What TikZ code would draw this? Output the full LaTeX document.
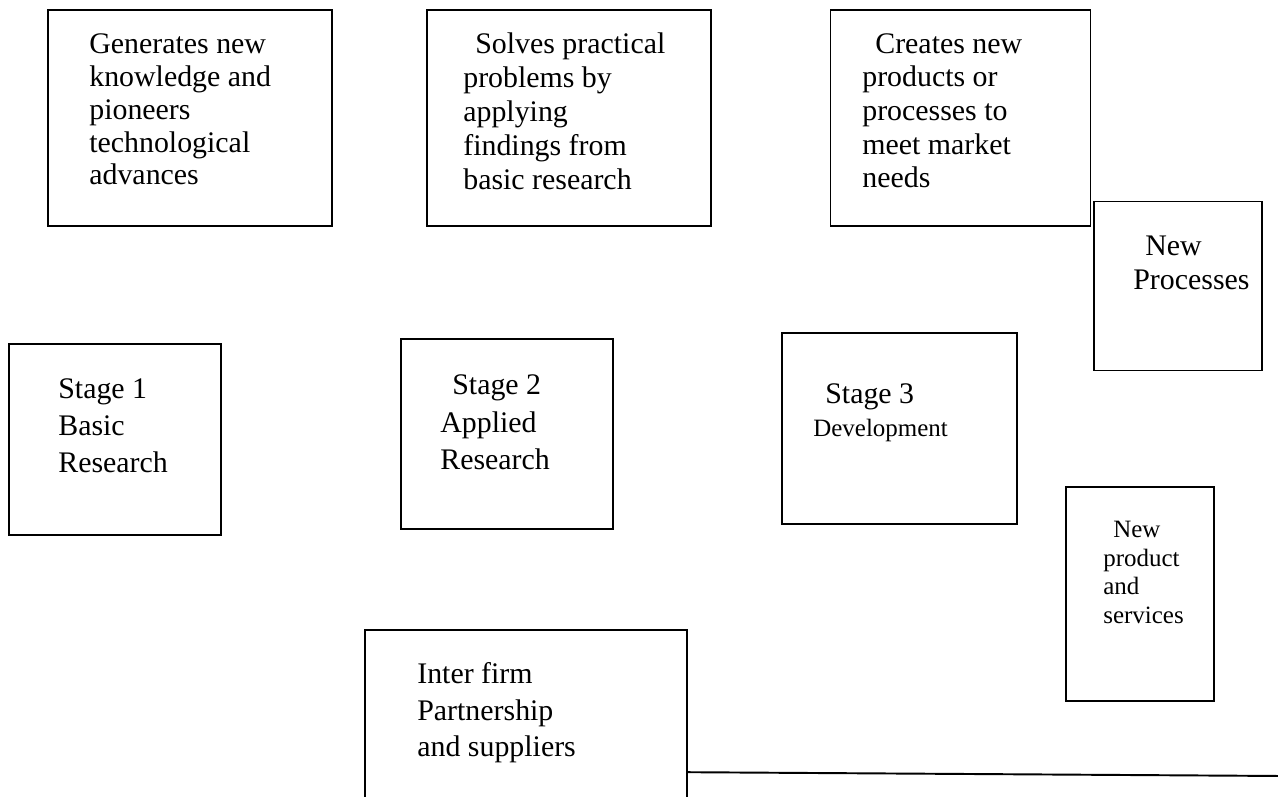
\documentclass[tikz,border=0pt]{standalone}
\usepackage{fontspec}
\setmainfont{Liberation Serif}
\usepackage{tikz}
\usetikzlibrary{calc}

\tikzset{
  stagebox/.style={draw, line width=0.9pt, inner sep=0pt},
  boxtext/.style={anchor=base west, align=left, inner sep=0pt},
}
\newcommand{\bigtext}[1]{\fontsize{17}{#1}\selectfont}
\newcommand{\smalltext}[1]{\fontsize{14.2}{#1}\selectfont}

\begin{document}
\begin{tikzpicture}
  \clip (0,0) rectangle (25.56,15.94);

  % Top row: descriptions
  \node[stagebox, minimum width=5.68cm, minimum height=4.32cm] (desc1) at (3.80,13.58) {};
  \node[stagebox, minimum width=5.68cm, minimum height=4.32cm] (desc2) at (11.38,13.58) {};
  \node[stagebox, minimum width=5.20cm, minimum height=4.32cm] (desc3) at (19.21,13.58) {};
  \node[boxtext, font=\bigtext{18.7pt}] (desc1t) at (1.78,12.24)
    {Generates new\\knowledge and\\pioneers\\technological\\advances};
  \node[boxtext, font=\bigtext{19.4pt}] (desc2t) at (9.26,12.14)
    {\hspace{0.24cm}Solves practical\\problems by\\applying\\findings from\\basic research};
  \node[boxtext, font=\bigtext{19.2pt}] (desc3t) at (17.24,12.18)
    {\hspace{0.26cm}Creates new\\products or\\processes to\\meet market\\needs};

  % Outputs
  \node[stagebox, minimum width=3.36cm, minimum height=3.38cm] (newproc) at (23.56,10.22) {};
  \node[boxtext, font=\bigtext{19.9pt}] (newproct) at (22.66,10.14)
    {\hspace{0.24cm}New\\Processes};
  \node[stagebox, minimum width=2.96cm, minimum height=4.28cm] (newprod) at (22.80,4.06) {};
  \node[boxtext, font=\smalltext{16.5pt}] (newprodt) at (22.06,3.46)
    {\hspace{0.2cm}New\\product\\and\\services};

  % Middle row: stages
  \node[stagebox, minimum width=4.24cm, minimum height=3.82cm] (stage1) at (2.30,7.15) {};
  \node[stagebox, minimum width=4.24cm, minimum height=3.80cm] (stage2) at (10.14,7.26) {};
  \node[stagebox, minimum width=4.70cm, minimum height=3.82cm] (stage3) at (17.99,7.37) {};
  \node[boxtext, font=\bigtext{21.3pt}] (stage1t) at (1.16,6.48)
    {Stage 1\\Basic\\Research};
  \node[boxtext, font=\bigtext{21.6pt}] (stage2t) at (8.80,6.54)
    {\hspace{0.24cm}Stage 2\\Applied\\Research};
  \node[boxtext, font=\bigtext{19.3pt}] (stage3t) at (16.26,7.20)
    {\hspace{0.24cm}Stage 3\\{\smalltext{19.3pt}Development}};

  % Partners
  \node[stagebox, minimum width=6.44cm, minimum height=4cm] (partner) at (10.52,1.34) {};
  \node[boxtext, font=\bigtext{20.9pt}] (partnert) at (8.34,0.80)
    {Inter firm\\Partnership\\and suppliers};
  \coordinate (lineend) at (25.60,0.42);
  \draw[line width=1.1pt] ($(partner.north east)+(0,-2.86)$) -- (lineend);
\end{tikzpicture}
\end{document}
